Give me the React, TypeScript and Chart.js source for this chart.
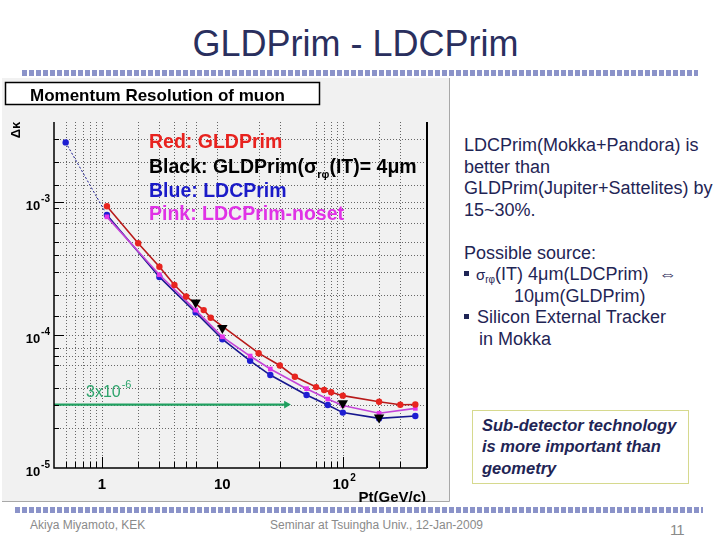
import React, { useEffect, useRef } from "react";
import { Chart, registerables } from "chart.js";

Chart.register(...registerables);

// Pt (GeV/c) and momentum resolution Δκ for each detector configuration
const gldPt = [1.1, 2, 3, 4, 5, 7, 8, 20, 30, 40, 60, 70, 80, 100, 200, 300, 400];
const gldRes = [9.3e-4, 4.9e-4, 3.26e-4, 2.38e-4, 1.95e-4, 1.54e-4, 1.35e-4, 7.3e-5, 5.9e-5, 4.86e-5, 4.06e-5, 3.86e-5, 3.71e-5, 3.5e-5, 3.15e-5, 2.99e-5, 3.0e-5];
const gld4Pt = [6, 10, 100, 200];
const gld4Res = [1.76e-4, 1.13e-4, 3.07e-5, 2.4e-5];
const ldcPt = [0.5, 1.1, 3, 6, 10, 17, 25, 50, 75, 100, 200, 400];
const ldcRes = [2.81e-3, 8.0e-4, 2.73e-4, 1.48e-4, 9.3e-5, 6.4e-5, 5.0e-5, 3.54e-5, 2.98e-5, 2.61e-5, 2.36e-5, 2.46e-5];
const nosetPt = [1.1, 3, 6, 10, 17, 25, 50, 75, 100, 200, 400];
const nosetRes = [7.74e-4, 2.84e-4, 1.54e-4, 9.7e-5, 6.95e-5, 5.55e-5, 3.95e-5, 3.3e-5, 2.95e-5, 2.58e-5, 2.81e-5];
const goalPt = [0.4, 34];
const goalRes = [3e-5, 3e-5];

// axis ranges, tick marks and labels
const xRange = [0.4, 500];
const yRange = [1e-5, 4e-3];
const xTickValues = [0.5, 0.6, 0.7, 0.8, 0.9, 1, 2, 3, 4, 5, 6, 9, 20, 30, 60, 70, 80, 90, 100, 200, 300];
const xMajorTicks = [1, 100];
const xLabelValues = [1, 10, 100];
const xLabelText = [["1", ""], ["10", ""], ["10", "2"]];
const yTickValues = [2e-5, 3e-5, 4e-5, 6e-5, 7e-5, 8e-5, 1e-4, 1.4e-4, 2e-4, 3e-4, 4e-4, 5e-4, 7e-4, 9e-4, 1e-3, 1.35e-3, 2e-3, 3e-3];
const yMajorTicks = [1e-4, 1e-3];
const yLabelValues = [1e-5, 1e-4, 1e-3];
const yLabelText = [["10", "-5"], ["10", "-4"], ["10", "-3"]];

const FONT = '"Liberation Sans", Arial, Helvetica, sans-serif';
const NAVY = "#1f2555";

const pts = (xs: number[], ys: number[]) => xs.map((x, i) => ({ x, y: ys[i] }));

function drawPower(ctx: CanvasRenderingContext2D, base: string, exp: string, x: number, y: number,
  size: number, expSize: number, align: "right" | "center", rise: number) {
  ctx.font = `bold ${size}px ${FONT}`;
  const bw = ctx.measureText(base).width;
  ctx.font = `bold ${expSize}px ${FONT}`;
  const ew = exp ? ctx.measureText(exp).width + 1 : 0;
  const left = align === "right" ? x - bw - ew : x - bw / 2;
  ctx.textAlign = "left";
  ctx.textBaseline = "alphabetic";
  ctx.font = `bold ${size}px ${FONT}`;
  ctx.fillText(base, left, y);
  if (exp) {
    ctx.font = `bold ${expSize}px ${FONT}`;
    ctx.fillText(exp, left + bw + 1, y - rise);
  }
}

const rootStyle = {
  id: "rootStyle",
  beforeDraw(chart: any) {
    const { ctx, width, height } = chart;
    ctx.save();
    ctx.fillStyle = "#f1f1f1";
    ctx.fillRect(0, 0, width, height);
    ctx.strokeStyle = "#a8a8a8";
    ctx.lineWidth = 1;
    ctx.beginPath();
    ctx.moveTo(width - 0.5, 0);
    ctx.lineTo(width - 0.5, height - 0.5);
    ctx.lineTo(0, height - 0.5);
    ctx.stroke();
    ctx.restore();
  },
  beforeDatasetsDraw(chart: any) {
    const { ctx, chartArea: a, scales } = chart;
    const { x, y } = scales;
    ctx.save();
    ctx.strokeStyle = "#666";
    ctx.lineWidth = 1;
    ctx.setLineDash([1, 2]);
    ctx.beginPath();
    for (const v of xTickValues) {
      const px = Math.round(x.getPixelForValue(v)) + 0.5;
      ctx.moveTo(px, a.top);
      ctx.lineTo(px, a.bottom);
    }
    for (const v of yTickValues) {
      const py = Math.round(y.getPixelForValue(v)) + 0.5;
      ctx.moveTo(a.left, py);
      ctx.lineTo(a.right, py);
    }
    ctx.stroke();
    ctx.restore();
  },
  afterDatasetsDraw(chart: any) {
    const { ctx, chartArea: a, scales } = chart;
    const { x, y } = scales;
    ctx.save();
    // frame
    ctx.strokeStyle = "#000";
    ctx.lineWidth = 1.5;
    ctx.beginPath();
    ctx.moveTo(a.left, a.top);
    ctx.lineTo(a.left, a.bottom);
    ctx.lineTo(a.right, a.bottom);
    ctx.stroke();
    ctx.lineWidth = 2;
    ctx.beginPath();
    ctx.moveTo(a.right, a.top);
    ctx.lineTo(a.right, a.bottom);
    ctx.stroke();
    // tick marks inside the frame
    ctx.lineWidth = 1;
    ctx.beginPath();
    for (const v of xTickValues) {
      const px = Math.round(x.getPixelForValue(v)) + 0.5;
      const len = xMajorTicks.includes(v) ? 11 : 6;
      ctx.moveTo(px, a.bottom);
      ctx.lineTo(px, a.bottom - len);
    }
    for (const v of yTickValues) {
      const py = Math.round(y.getPixelForValue(v)) + 0.5;
      const len = yMajorTicks.includes(v) ? 10 : 5;
      ctx.moveTo(a.left, py);
      ctx.lineTo(a.left + len, py);
    }
    ctx.stroke();

    // tick labels
    ctx.fillStyle = "#000";
    yLabelValues.forEach((v, i) => {
      const py = y.getPixelForValue(v);
      drawPower(ctx, yLabelText[i][0], yLabelText[i][1], a.left - 4, py + 8, 13, 10, "right", 8);
    });
    xLabelValues.forEach((v, i) => {
      const px = x.getPixelForValue(v);
      drawPower(ctx, xLabelText[i][0], xLabelText[i][1], px - (xLabelText[i][1] ? 2 : 0), a.bottom + 21, 15, 10, "center", 8);
    });
    ctx.font = `bold 15px ${FONT}`;
    ctx.textAlign = "right";
    ctx.fillText("Pt(GeV/c)", a.right - 1, a.bottom + 34);

    // y axis title
    ctx.save();
    ctx.translate(14, 52);
    ctx.rotate(-Math.PI / 2);
    ctx.font = `bold 13px ${FONT}`;
    ctx.textAlign = "center";
    ctx.textBaseline = "middle";
    ctx.fillText("Δκ", 0, 0);
    ctx.restore();

    // plot title box
    ctx.fillStyle = "#fff";
    ctx.fillRect(3.5, 4.5, 314, 22);
    ctx.strokeStyle = "#000";
    ctx.lineWidth = 1.5;
    ctx.strokeRect(3.5, 4.5, 314, 22);
    ctx.fillStyle = "#000";
    ctx.font = `bold 17px ${FONT}`;
    ctx.textAlign = "left";
    ctx.textBaseline = "alphabetic";
    ctx.fillText("Momentum Resolution of muon", 28, 22.5);

    // series key
    const lx = 147;
    ctx.font = `bold 19.5px ${FONT}`;
    ctx.fillStyle = "#e8221e";
    ctx.fillText("Red: GLDPrim", lx, 70);
    ctx.fillStyle = "#000";
    const p1 = "Black: GLDPrim(σ";
    ctx.fillText(p1, lx, 95);
    let w = ctx.measureText(p1).width;
    ctx.font = `bold 11px ${FONT}`;
    ctx.fillText("rφ", lx + w, 100);
    w += ctx.measureText("rφ").width;
    ctx.font = `bold 19.5px ${FONT}`;
    ctx.fillText("(IT)= 4μm", lx + w, 95);
    ctx.fillStyle = "#1a1ac8";
    ctx.fillText("Blue: LDCPrim", lx, 119);
    ctx.fillStyle = "#e032e6";
    ctx.fillText("Pink: LDCPrim-noset", lx, 142);

    // goal label
    ctx.fillStyle = "#2ea46c";
    ctx.font = `16px ${FONT}`;
    ctx.fillText("3x10", 84, 318.5);
    const gw = ctx.measureText("3x10").width;
    ctx.font = `11px ${FONT}`;
    ctx.fillText("-6", 84 + gw + 1, 310);
    ctx.restore();
  },
};

export default function App() {
  const ref = useRef<HTMLCanvasElement>(null);

  useEffect(() => {
    const chart = new Chart(ref.current as HTMLCanvasElement, {
      type: "scatter",
      data: {
        datasets: [
          {
            label: "GLDPrim σrφ(IT)=4μm",
            data: pts(gld4Pt, gld4Res),
            showLine: false,
            pointStyle: "triangle",
            rotation: 180,
            pointRadius: 6,
            backgroundColor: "#000",
            borderColor: "#000",
            borderWidth: 0,
          },
          {
            label: "GLDPrim",
            data: pts(gldPt, gldRes),
            showLine: true,
            borderColor: "#b81a1a",
            borderWidth: 1.6,
            pointRadius: 3.2,
            pointBackgroundColor: "#e8241f",
            pointBorderWidth: 0,
          },
          {
            label: "LDCPrim-noset",
            data: pts(nosetPt, nosetRes),
            showLine: true,
            borderColor: "#c444d8",
            borderWidth: 1.6,
            pointStyle: "rect",
            pointRadius: 3.3,
            pointBackgroundColor: "#e434ea",
            pointBorderWidth: 0,
          },
          {
            label: "LDCPrim",
            data: pts(ldcPt, ldcRes),
            showLine: true,
            borderColor: "#16168e",
            borderWidth: 1.6,
            pointRadius: 3.2,
            pointBackgroundColor: "#1e1ed2",
            pointBorderWidth: 0,
            segment: {
              borderDash: (c: any) => (c.p0DataIndex === 0 ? [2, 2] : undefined),
              borderWidth: (c: any) => (c.p0DataIndex === 0 ? 1 : 1.6),
            },
          },
          {
            label: "goal",
            data: pts(goalPt, goalRes),
            showLine: true,
            borderColor: "#20a060",
            borderWidth: 2.2,
            pointStyle: "triangle",
            rotation: 90,
            pointRadius: [0, 4.5],
            pointBackgroundColor: "#20a060",
            pointBorderWidth: 0,
          },
        ],
      },
      options: {
        animation: false,
        responsive: false,
        devicePixelRatio: 1,
        layout: { padding: { left: 52, top: 44, right: 23, bottom: 34 } },
        plugins: { legend: { display: false }, tooltip: { enabled: false } },
        scales: {
          x: {
            type: "logarithmic",
            min: xRange[0],
            max: xRange[1],
            ticks: { display: false },
            grid: { display: false, drawTicks: false },
            border: { display: false },
            afterFit: (s: any) => { s.height = 0; },
          },
          y: {
            type: "logarithmic",
            min: yRange[0],
            max: yRange[1],
            ticks: { display: false },
            grid: { display: false, drawTicks: false },
            border: { display: false },
            afterFit: (s: any) => { s.width = 0; },
          },
        },
      },
      plugins: [rootStyle],
    } as any);
    return () => chart.destroy();
  }, []);

  const T = (p: { x: number; y: number; size: number; children: React.ReactNode; style?: React.CSSProperties }) => (
    <div
      style={{
        position: "absolute",
        left: p.x,
        top: p.y - 0.8465 * p.size,
        fontSize: p.size,
        lineHeight: `${p.size}px`,
        whiteSpace: "pre",
        color: NAVY,
        ...p.style,
      }}
    >
      {p.children}
    </div>
  );

  const bullet = (x: number, y: number) => (
    <div style={{ position: "absolute", left: x, top: y - 10, width: 5, height: 5, background: NAVY }} />
  );

  const dots = (x: number, y: number, w: number) => (
    <div
      style={{
        position: "absolute",
        left: x,
        top: y,
        width: w,
        height: 6,
        background: "repeating-linear-gradient(90deg, #8b93c9 0px, #8b93c9 5px, transparent 5px, transparent 7px)",
      }}
    />
  );

  return (
    <div
      style={{
        position: "fixed",
        left: 0,
        top: 0,
        width: 720,
        height: 540,
        background: "#fff",
        overflow: "hidden",
        fontFamily: FONT,
      }}
    >
      <T x={0} y={56} size={36} style={{ width: 711, textAlign: "center", color: "#2a2f5e" }}>
        GLDPrim - LDCPrim
      </T>
      {dots(22, 70, 676)}
      <canvas ref={ref} width={448} height={424} style={{ position: "absolute", left: 2, top: 78, width: 448, height: 424 }} />

      <T x={464} y={151.5} size={18}>LDCPrim(Mokka+Pandora) is</T>
      <T x={464} y={173} size={18}>better than</T>
      <T x={464} y={194.5} size={18}>GLDPrim(Jupiter+Sattelites) by</T>
      <T x={464} y={216} size={18}>15~30%.</T>
      <T x={464} y={259} size={18}>Possible source:</T>
      {bullet(464, 280.5)}
      <T x={476} y={280.5} size={18}>
        <span style={{ fontSize: 15 }}>σ</span>
        <span style={{ fontSize: 10, position: "relative", top: 3 }}>rφ</span>
        {"(IT) 4μm(LDCPrim)  ⇔"}
      </T>
      <T x={514} y={302} size={18}>10μm(GLDPrim)</T>
      {bullet(464, 323.5)}
      <T x={477} y={323.5} size={18}>Silicon External Tracker</T>
      <T x={479} y={345} size={18}>in Mokka</T>

      <div
        style={{
          position: "absolute",
          left: 472,
          top: 410,
          width: 215,
          height: 72,
          border: "1px solid #d6d98e",
        }}
      />
      <T x={482} y={430.5} size={16.5} style={{ fontWeight: "bold", fontStyle: "italic" }}>Sub-detector technology</T>
      <T x={482} y={452} size={16.5} style={{ fontWeight: "bold", fontStyle: "italic" }}>is more important than</T>
      <T x={482} y={474} size={16.5} style={{ fontWeight: "bold", fontStyle: "italic" }}>geometry</T>

      {dots(15, 507, 688)}
      <T x={30} y={529} size={12} style={{ color: "#8a8a8a" }}>Akiya Miyamoto, KEK</T>
      <T x={270} y={529} size={12} style={{ color: "#8a8a8a" }}>Seminar at Tsuingha Univ., 12-Jan-2009</T>
      <T x={670} y={535} size={15} style={{ color: "#8a8a8a", letterSpacing: -1 }}>11</T>
    </div>
  );
}
